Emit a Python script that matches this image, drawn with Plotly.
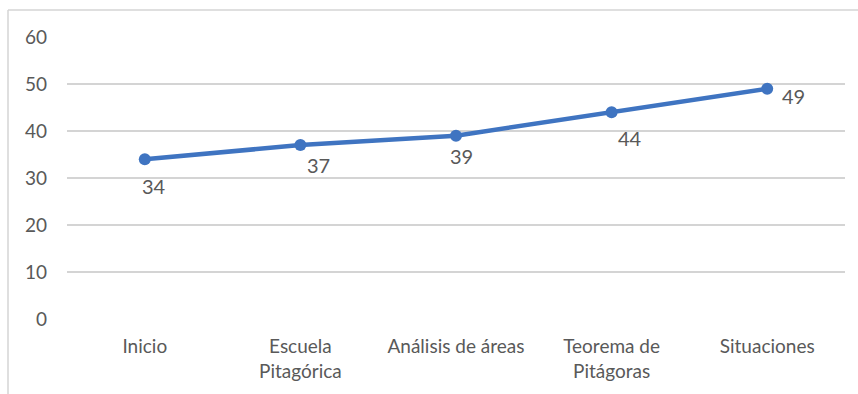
import plotly.graph_objects as go

# Stages of the sequence and the score reached at each one
categories = ["Inicio", "Escuela<br>Pitagórica", "Análisis de áreas", "Teorema de<br>Pitágoras", "Situaciones"]
values = [34, 37, 39, 44, 49]
y_ticks = [0, 10, 20, 30, 40, 50, 60]

# pixel offsets of each value label from its point
label_dx = [9, 18, 5, 18, 26]
label_dy = [-27, -20, -20, -26, -7]

W, H = 858, 394
ml, mr, mt, mb = 67, 13, 37, 75
pw, ph = W - ml - mr, H - mt - mb

line_color = "#3f74c1"
text_color = "#595959"
grid_color = "#d4d4d4"
font_family = "Lato, Calibri, Carlito, sans-serif"

fig = go.Figure()
fig.add_trace(go.Scatter(
    x=categories, y=values, mode="lines+markers",
    line=dict(color=line_color, width=4.5),
    marker=dict(color=line_color, size=12),
    showlegend=False, hoverinfo="skip",
))

for c, v, dx, dy in zip(categories, values, label_dx, label_dy):
    fig.add_annotation(x=c, y=v, text=str(v), showarrow=False,
                       xshift=dx, yshift=dy,
                       font=dict(family=font_family, size=20, color=text_color))

# chart-area frame (top and left edges)
fx = (8 - ml) / pw
fy = 1 + (mt - 10) / ph
fb = -(mb) / ph
fig.add_shape(type="line", xref="paper", yref="paper", x0=fx, x1=(W - ml) / pw, y0=fy, y1=fy,
              line=dict(color=grid_color, width=1.5))
fig.add_shape(type="line", xref="paper", yref="paper", x0=fx, x1=fx, y0=fy, y1=fb - 0.01,
              line=dict(color=grid_color, width=1.5))

fig.update_layout(
    width=W, height=H,
    margin=dict(l=ml, r=mr, t=mt, b=mb),
    paper_bgcolor="white", plot_bgcolor="white",
    font=dict(family=font_family, size=19, color=text_color),
    xaxis=dict(type="category", range=[-0.5, 4.5], showgrid=False, zeroline=False,
               showline=False, ticks="", tickfont=dict(size=19, color=text_color),
               ticklabelstandoff=14),
    yaxis=dict(range=[0, 60], tickvals=y_ticks, showgrid=True, gridcolor=grid_color,
               gridwidth=1.5, zeroline=False, showline=False, ticks="",
               tickfont=dict(size=19, color=text_color), ticklabelstandoff=19),
)

fig.write_html("out.html")
